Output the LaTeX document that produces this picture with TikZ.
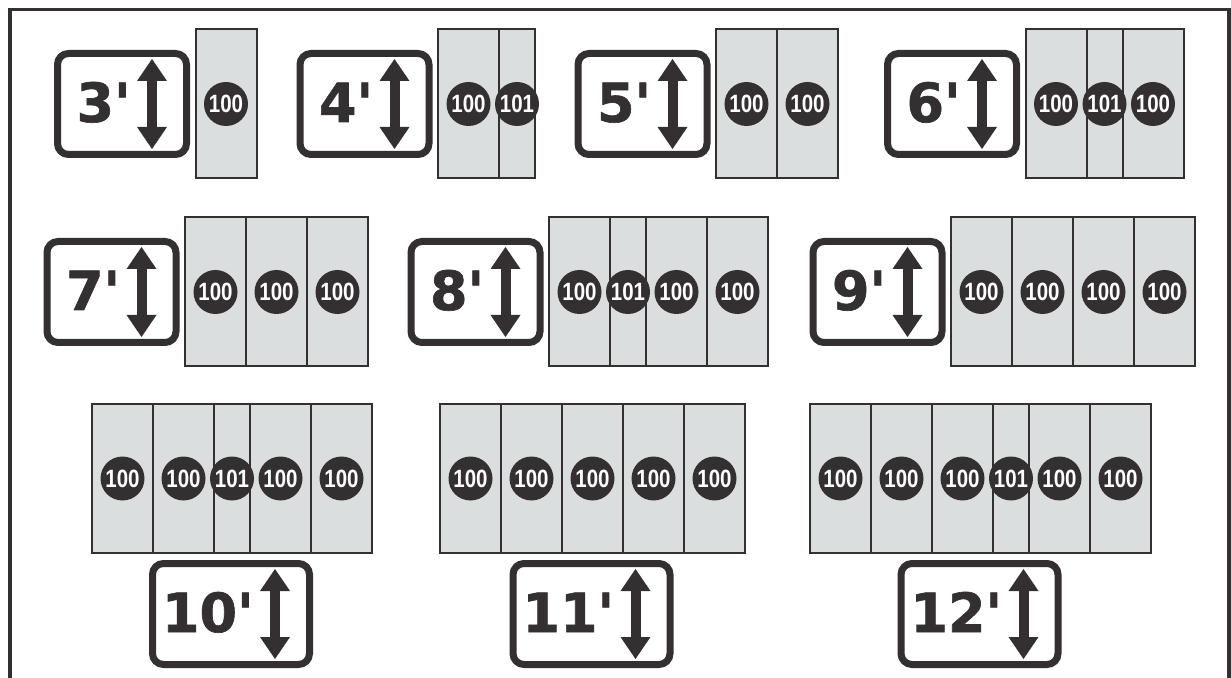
\documentclass[tikz,border=0pt]{standalone}
\usepackage{fontspec}
\usetikzlibrary{arrows.meta,positioning}
\newfontfamily\signfont{DejaVu Sans}[BoldFeatures={FakeBold=1.2}]
\newfontfamily\numfont{Liberation Sans}[BoldFont={Liberation Sans Bold}, BoldFeatures={FakeStretch=0.82}]
\definecolor{ink}{RGB}{52,48,50}
\definecolor{panelgray}{RGB}{219,222,223}
% arrow and height label inside one sign
\newcommand{\signmarks}[1]{%
  \coordinate (top#1) at ([xshift=-17.25pt,yshift=-2.75pt]sign#1.north east);
  \coordinate (bot#1) at ([xshift=-17.25pt,yshift=2.75pt]sign#1.south east);
  \draw[updown] (top#1) -- (bot#1);
  \node[signtext] (lab#1) at ([xshift=-27.75pt,yshift=-9pt]sign#1.east) {#1\char"27};}

\begin{document}
\begin{tikzpicture}[
    x=0.5pt, y=-0.5pt,
    sign/.style={draw=ink, line width=3.5pt, rounded corners=5.5pt, fill=white, minimum width=64.5pt, minimum height=50.5pt, inner sep=0pt, outer sep=0pt},
    widesign/.style={sign, minimum width=78.5pt},
    signtext/.style={font=\signfont\bfseries\fontsize{27}{27}\selectfont, text=ink, inner sep=0pt, anchor=base east},
    updown/.style={draw=ink, line width=5pt, {Triangle[width=15pt,length=11pt,line width=0pt]}-{Triangle[width=15pt,length=11pt,line width=0pt]}},
    slot100/.style={draw=ink, line width=1pt, fill=panelgray, minimum width=30.5pt, minimum height=74.5pt, inner sep=0pt, outer sep=0pt},
    slot101/.style={slot100, minimum width=18pt},
    badge/.style={circle, fill=ink, text=white, minimum size=22pt, inner sep=0pt, font=\numfont\bfseries\fontsize{12.5}{12.5}\selectfont}
  ]
  \useasboundingbox (0,0) rectangle (1231,678);
  \draw[ink, line width=1.75pt] (10,678) -- (10,9.5) -- (1229,9.5) -- (1229,678);

  % signs with panels to the right
  \foreach \n/\cx/\cy/\l in {3/122/104/{100}, 4/364.5/104/{100,101}, 5/642.5/104/{100,100}, 6/952/104/{100,101,100},
      7/111.5/292/{100,100,100}, 8/475.5/292/{100,101,100,100}, 9/877.5/292/{100,100,100,100}} {
    \node[sign] (sign\n) at (\cx,\cy) {};
    \signmarks{\n}
    \coordinate[right=4.5pt of sign\n] (p\n-0);
    \foreach \t [count=\i, remember=\i as \j (initially 0)] in \l
      \node[slot\t, right=0pt of p\n-\j] (p\n-\i) {};
    \foreach \t [count=\i] in \l
      \node[badge] (b\n-\i) at (p\n-\i) {\t};
  }

  % panels with the sign below
  \foreach \n/\px/\cx/\l in {10/92/231/{100,100,101,100,100}, 11/440/591.5/{100,100,100,100,100}, 12/810/979.5/{100,100,100,101,100,100}} {
    \coordinate (p\n-0) at (\px,478.5);
    \foreach \t [count=\i, remember=\i as \j (initially 0)] in \l
      \node[slot\t, right=0pt of p\n-\j] (p\n-\i) {};
    \foreach \t [count=\i] in \l
      \node[badge] (b\n-\i) at (p\n-\i) {\t};
    \node[widesign] (sign\n) at (\cx,614) {};
    \signmarks{\n}
  }
\end{tikzpicture}
\end{document}
